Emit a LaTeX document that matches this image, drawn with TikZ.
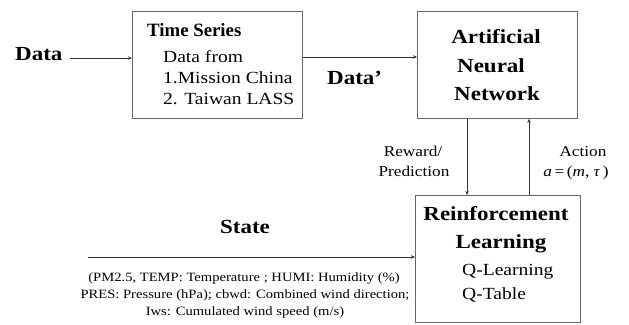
\documentclass[tikz,border=0pt]{standalone}
\usepackage{fontspec}
\setmainfont[FakeStretch=1.15]{Liberation Serif}
\newfontfamily\plainserif{Liberation Serif}
\usetikzlibrary{arrows.meta}
\begin{document}
\begin{tikzpicture}[x=1pt,y=-1pt,
  box/.style={draw=black!60, line width=0.8pt},
  conn/.style={draw=black!80, line width=0.7pt, -{Stealth[length=4pt,width=3.5pt]}},
  lbl/.style={inner sep=0pt, anchor=base},
  title/.style={font=\fontsize{20}{24}\selectfont\bfseries},
  tstitle/.style={font=\plainserif\fontsize{18.8}{22}\selectfont\bfseries},
  body/.style={font=\fontsize{17}{21}\selectfont},
  small/.style={font=\fontsize{15}{18}\selectfont},
  tiny/.style={font=\fontsize{12.7}{16}\selectfont}]
\useasboundingbox (0,0) rectangle (629,324);
% boxes
\node[box, minimum width=170pt, minimum height=107pt, anchor=north west] (ts) at (132,11) {};
\node[box, minimum width=160pt, minimum height=107pt, anchor=north west] (ann) at (417,11) {};
\node[box, minimum width=165pt, minimum height=127pt, anchor=north west] (rl) at (415,195) {};
% Time series text
\node[lbl, tstitle, anchor=base west] (tst) at (147,36) {Time Series};
\node[lbl, body, anchor=base west] (ts1) at (163,62) {Data from};
\node[lbl, body, anchor=base west] (ts2) at (163,83) {1.Mission China};
\node[lbl, body, anchor=base west] (ts3) at (163,104) {2. Taiwan LASS};
% ANN text
\node[lbl, title] (a1) at (496,43) {Artificial};
\node[lbl, title] (a2) at (491,72) {Neural};
\node[lbl, title] (a3) at (497,100) {Network};
% RL text
\node[lbl, title] (r1) at (496,220) {Reinforcement};
\node[lbl, title] (r2) at (501,248) {Learning};
\node[lbl, body, anchor=base west] (r3) at (462,275) {Q-Learning};
\node[lbl, body, anchor=base west] (r4) at (462,299) {Q-Table};
% outer labels
\node[lbl, title, anchor=base west] (data) at (15,60) {Data};
\coordinate (din) at (70,58);
\node[lbl, title, anchor=base west] (datap) at (327,84) {Data’};
\node[lbl, small] (rw1) at (413,156) {Reward/};
\node[lbl, small] (rw2) at (414,176) {Prediction};
\node[lbl, small] (ac1) at (583,156) {Action};
\node[lbl, small] (ac2) at (576,176) {\textit{a}\,=\,(\textit{m}, \textit{τ}\,)};
\node[lbl, title] (state) at (245,233) {State};
\coordinate (sin) at (88,257);
\node[lbl, tiny] (p1) at (244,281) {(PM2.5, TEMP: Temperature ; HUMI: Humidity (\%)};
\node[lbl, tiny] (p2) at (245,298) {PRES: Pressure (hPa); cbwd: Combined wind direction;};
\node[lbl, tiny] (p3) at (245,315) {Iws: Cumulated wind speed (m/s)};
% connectors
\draw[conn] (din) -- (din -| ts.west);
\draw[conn] (ts.east |- 0,57) -- (ann.west |- 0,57);
\draw[conn] (ann.south -| 467,0) -- (rl.north -| 467,0);
\draw[conn] (rl.north -| 529,0) -- (ann.south -| 529,0);
\draw[conn] (sin) -- (sin -| rl.west);
\end{tikzpicture}
\end{document}
